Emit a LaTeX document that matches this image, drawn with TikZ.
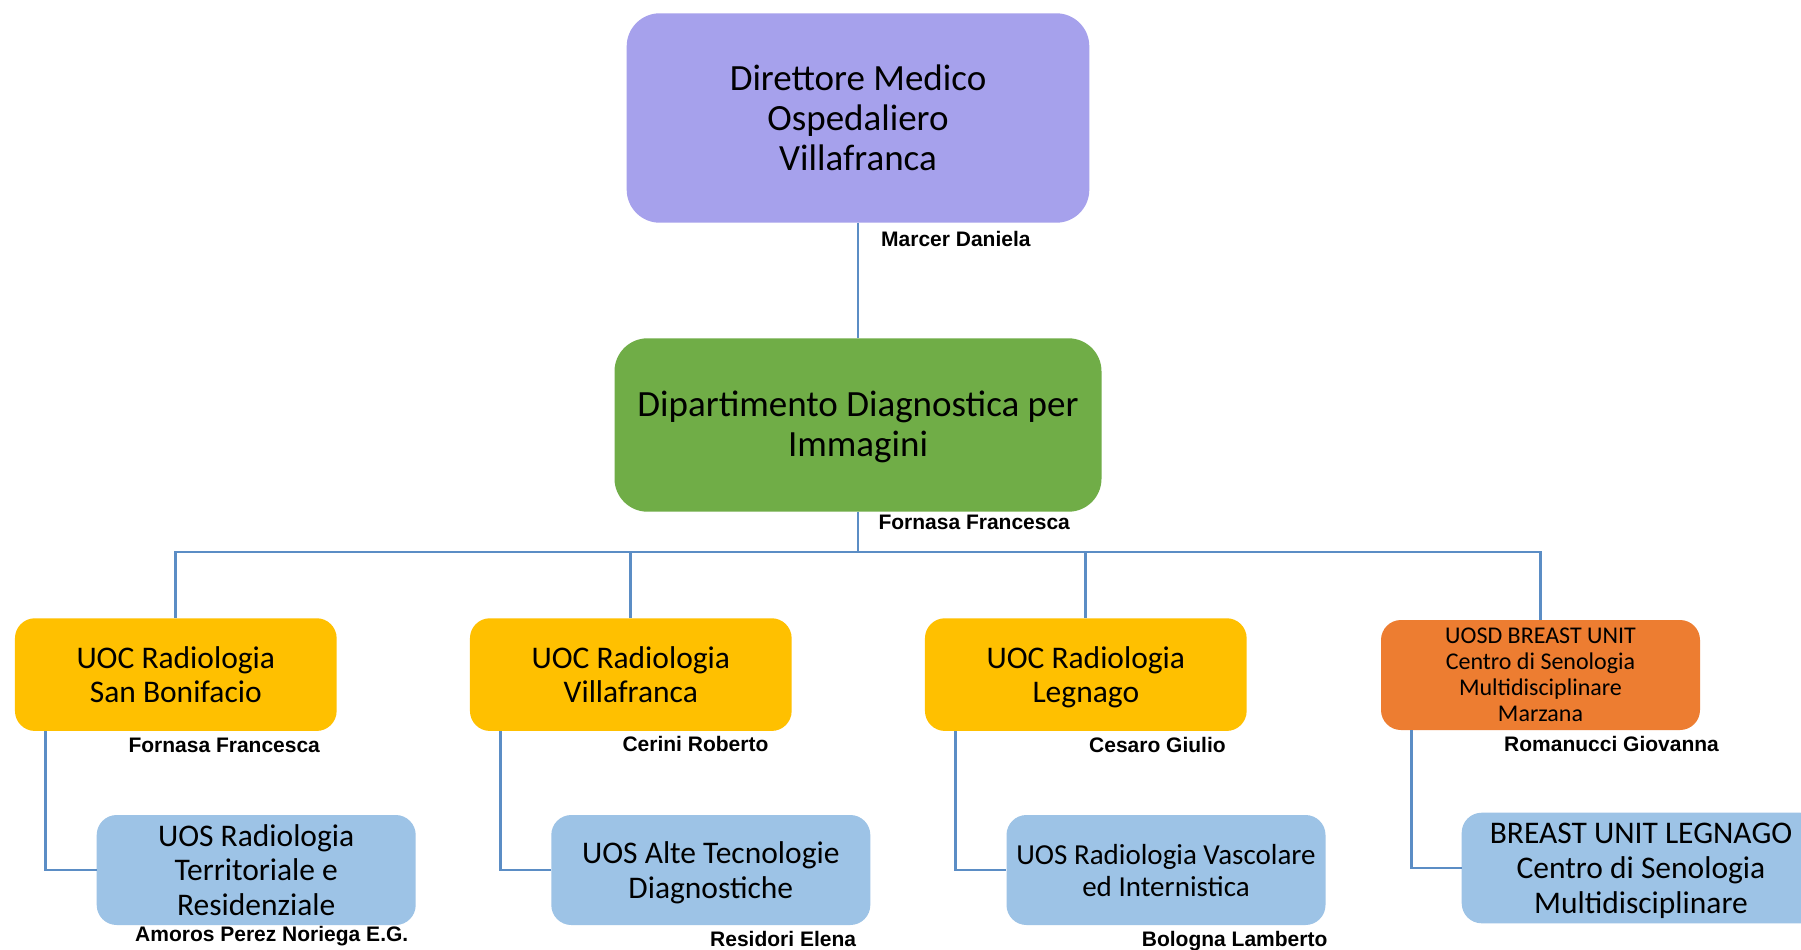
\documentclass[tikz,border=0pt]{standalone}
\usepackage{fontspec}
\setmainfont{Carlito}
\newfontfamily\namefont{Liberation Sans}
\definecolor{cpurple}{HTML}{A6A1EC}
\definecolor{cgreen}{HTML}{70AD47}
\definecolor{cyellow}{HTML}{FFC000}
\definecolor{corange}{HTML}{ED7D31}
\definecolor{cblue}{HTML}{9DC3E6}
\definecolor{cline}{HTML}{5B8DC5}
\tikzset{
  box/.style={rectangle, inner sep=0pt, align=center, text=black, text depth=0pt},
  bigbox/.style={box, rounded corners=33pt, font={\fontsize{37}{40}\selectfont}},
  unitbox/.style={box, rounded corners=20pt, minimum width=321.7pt, minimum height=112.7pt, fill=cyellow, font={\fontsize{31.5}{34}\selectfont}},
  subbox/.style={box, rounded corners=20pt, minimum width=319pt, minimum height=110pt, fill=cblue, font={\fontsize{31.5}{34.5}\selectfont}},
  person/.style={anchor=base west, inner sep=0pt, font={\namefont\bfseries\fontsize{21}{24}\selectfont}},
  conn/.style={draw=cline, line width=2.7pt}
}
\begin{document}
\begin{tikzpicture}[x=1pt,y=-1pt]
\useasboundingbox (0,0) rectangle (1801,950);
\clip (0,0) rectangle (1801,950);
\fill[white] (0,0) rectangle (1801,950);
% top boxes
\node[bigbox, fill=cpurple, minimum width=462.6pt, minimum height=209.4pt] (top) at (858,118) {Direttore Medico\\Ospedaliero\\Villafranca};
\node[bigbox, fill=cgreen, minimum width=487pt, minimum height=173.4pt] (dip) at (858,425) {\raisebox{2pt}{Dipartimento Diagnostica per}\\\raisebox{2pt}{Immagini}};
% units
\node[unitbox] (u1) at (175.8,674.6) {UOC Radiologia\\San Bonifacio};
\node[unitbox] (u2) at (630.8,674.6) {UOC Radiologia\\Villafranca};
\node[unitbox] (u3) at (1085.8,674.6) {UOC Radiologia\\Legnago};
\node[box, rounded corners=20pt, minimum width=319pt, minimum height=110pt, fill=corange, font={\fontsize{24}{26}\selectfont}] (u4) at (1540.5,675) {UOSD BREAST UNIT\\Centro di Senologia\\Multidisciplinare\\Marzana};
% sub units
\node[subbox] (s1) at (256.2,870) {UOS Radiologia\\Territoriale e\\Residenziale};
\node[subbox] (s2) at (710.8,870) {UOS Alte Tecnologie\\Diagnostiche};
\node[subbox, font={\fontsize{29}{32}\selectfont}] (s3) at (1166,870) {UOS Radiologia Vascolare\\ed Internistica};
\node[subbox, minimum width=358.6pt, minimum height=110.6pt, font={\fontsize{31.5}{35}\selectfont}] (s4) at (1641,868) {BREAST UNIT LEGNAGO\\Centro di Senologia\\Multidisciplinare};
% connectors
\coordinate (bus) at (0,552);
\draw[conn] (top.south) -- (dip.north);
\draw[conn] (dip.south) -- (dip.south |- bus) -| (u1.north);
\draw[conn] (dip.south) -- (dip.south |- bus) -| (u2.north);
\draw[conn] (dip.south) -- (dip.south |- bus) -| (u3.north);
\draw[conn] (dip.south) -- (dip.south |- bus) -| (u4.north);
\draw[conn] ([xshift=31pt]u1.south west) |- (s1.west);
\draw[conn] ([xshift=31pt]u2.south west) |- (s2.west);
\draw[conn] ([xshift=31pt]u3.south west) |- (s3.west);
\draw[conn] ([xshift=31pt]u4.south west) |- (s4.west);
% names
\node[person] (n0) at (881,246) {Marcer Daniela};
\node[person] (n1) at (878.3,529) {Fornasa Francesca};
\node[person] (n2) at (128.3,752.7) {Fornasa Francesca};
\node[person] (n3) at (622.3,751.7) {Cerini Roberto};
\node[person] (n4) at (1089,752.7) {Cesaro Giulio};
\node[person] (n5) at (1504,751.7) {Romanucci Giovanna};
\node[person] (n6) at (135,941.7) {Amoros Perez Noriega E.G.};
\node[person] (n7) at (710,946.7) {Residori Elena};
\node[person] (n8) at (1141.7,946.7) {Bologna Lamberto};
\end{tikzpicture}
\end{document}
